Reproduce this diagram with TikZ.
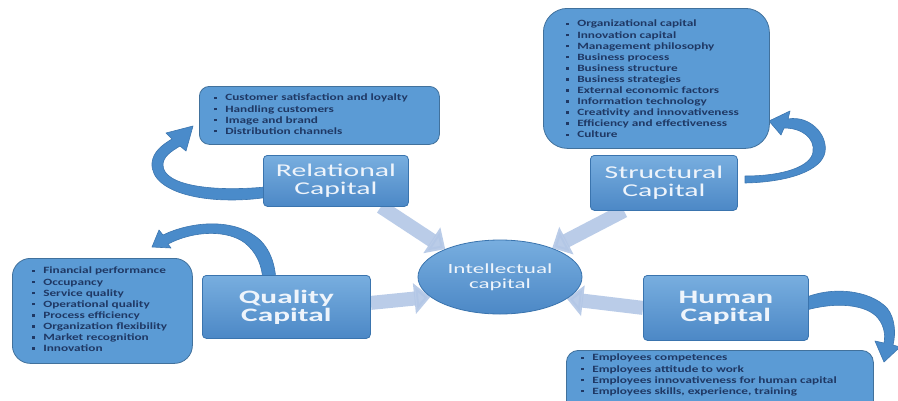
\documentclass[tikz,border=0pt]{standalone}
\usepackage{fontspec}
\setmainfont{Carlito}
\newfontfamily\listfont[FakeStretch=1.38]{Carlito}
\newfontfamily\titlefont[FakeStretch=1.65]{Carlito}
\usetikzlibrary{arrows.meta,shapes.geometric}

\definecolor{boxblue}{HTML}{5B9BD5}
\definecolor{boxedge}{HTML}{41719C}
\definecolor{captop}{HTML}{78AEDF}
\definecolor{capbot}{HTML}{4C88C6}
\definecolor{capedge}{HTML}{3A74AE}
\definecolor{listtext}{HTML}{1F3864}
\definecolor{titletext}{HTML}{EEF4FB}
\definecolor{curveblue}{HTML}{4A8BCA}
\definecolor{curveedge}{HTML}{3C76B0}
\definecolor{flowblue}{HTML}{B3C7E6}

% small square bullet in front of each list entry
\newcommand\sqb{\rule[1.8pt]{2.6pt}{2.6pt}\hspace{8.5pt}}

\pgfdeclarelayer{back}
\pgfsetlayers{back,main}

\tikzset{
  listbox/.style={draw=boxedge, fill=boxblue, line width=0.8pt,
    anchor=north west, inner sep=0pt},
  listtxt/.style={align=left, inner sep=0pt, anchor=north west,
    text=listtext, font=\listfont\bfseries\fontsize{9.6}{11.1}\selectfont},
  capbox/.style={rectangle, rounded corners=4pt, draw=capedge, line width=0.8pt,
    top color=captop, bottom color=capbot, anchor=north west, inner sep=0pt,
    align=center, text=titletext},
  captitle/.style={font=\titlefont\fontsize{18}{18}\selectfont},
  capbold/.style={font=\titlefont\bfseries\fontsize{19}{18}\selectfont},
  flow/.style={line width=14pt, draw=flowblue, opacity=0.9,
    -{Triangle[width=30pt,length=16pt]}},
  curvearrow/.style={fill=curveblue, draw=curveedge, line width=0.6pt, line join=round},
}

\begin{document}
\begin{tikzpicture}[x=1pt,y=-1pt]
\clip (0,0) rectangle (898,400);

% ---- list boxes ----
\node[listbox, rounded corners=10pt, minimum width=240pt, minimum height=58pt]
  (rellist) at (199,86) {};
\node[listbox, rounded corners=24pt, minimum width=226pt, minimum height=140pt]
  (strlist) at (543,8) {};
\node[listbox, rounded corners=18pt, minimum width=180pt, minimum height=105pt]
  (quallist) at (12,258) {};
\node[listbox, rounded corners=12pt, minimum width=307pt, minimum height=70pt]
  (humlist) at (566,350) {};

\node[listtxt] (reltext) at (214,94) {\sqb Customer satisfaction and loyalty\\
  \sqb Handling customers\\ \sqb Image and brand\\ \sqb Distribution channels};
\node[listtxt] (strtext) at (566,20) {\sqb Organizational capital\\
  \sqb Innovation capital\\ \sqb Management philosophy\\ \sqb Business process\\
  \sqb Business structure\\ \sqb Business strategies\\
  \sqb External economic factors\\ \sqb Information technology\\
  \sqb Creativity and innovativeness\\ \sqb Efficiency and effectiveness\\
  \sqb Culture};
\node[listtxt] (qualtext) at (32,267) {\sqb Financial performance\\
  \sqb Occupancy\\ \sqb Service quality\\ \sqb Operational quality\\
  \sqb Process efficiency\\ \sqb Organization flexibility\\
  \sqb Market recognition\\ \sqb Innovation};
\node[listtxt] (humtext) at (581,354) {\sqb Employees competences\\
  \sqb Employees attitude to work\\
  \sqb Employees innovativeness for human capital\\
  \sqb Employees skills, experience, training};

% ---- the four capitals and the centre ----
\node[capbox, captitle, minimum width=145pt, minimum height=51pt]
  (rel) at (263,155) {Relational\\Capital};
\node[capbox, captitle, minimum width=147pt, minimum height=55pt]
  (str) at (590,155) {Structural\\Capital};
\node[capbox, capbold, minimum width=168pt, minimum height=63pt]
  (qual) at (202,275) {Quality\\Capital};
\node[capbox, capbold, minimum width=165pt, minimum height=65pt]
  (hum) at (643,275) {Human\\Capital};
\node[ellipse, draw=capedge, line width=0.8pt, top color=captop, bottom color=capbot,
  minimum width=164pt, minimum height=74pt, inner sep=0pt, align=center,
  text=titletext, font=\titlefont\fontsize{14}{15}\selectfont]
  (ic) at (500,277) {Intellectual\\capital};

\begin{pgfonlayer}{back}
\fill[white] (0,0) rectangle (898,400);
% ---- straight flows into the centre ----
\draw[flow] ([xshift=45pt]rel.south) -- (ic.153);
\draw[flow] ([xshift=-40pt]str.south) -- (ic.29);
\draw[flow] ([yshift=4pt]qual.east) -- (ic.196);
\draw[flow] (hum.west) -- (ic.-18);

% ---- curved arrows from each capital to its list ----
\path[curvearrow] (275,196) .. controls (215,207) and (150,195) .. (152,163)
  .. controls (153,152) and (162,145) .. (172,139) -- (166,133) -- (193,126)
  -- (186,151) -- (180,146) .. controls (170,152) and (163,157) .. (163,165)
  .. controls (163,186) and (215,193) .. (275,186) -- cycle;
\path[curvearrow] (745,183) .. controls (790,182) and (822,170) .. (825,152)
  .. controls (828,135) and (810,115) .. (788,119) -- (790,111) -- (769,121)
  -- (781,135) -- (784,128) .. controls (802,128) and (815,138) .. (813,152)
  .. controls (811,166) and (785,176) .. (745,176) -- cycle;
\path[curvearrow] (276,285) .. controls (276,262) and (268,245) .. (255,236)
  .. controls (230,218) and (190,222) .. (163,235) -- (159,230) -- (152,247)
  -- (171,248) -- (168,244) .. controls (195,230) and (228,230) .. (245,243)
  .. controls (256,252) and (263,265) .. (263,285) -- cycle;
\path[curvearrow] (800,300) .. controls (830,285) and (870,290) .. (887,308)
  .. controls (895,318) and (896,333) .. (893,345) -- (900,347) -- (884,362)
  -- (875,341) -- (884,343) .. controls (886,333) and (883,323) .. (876,316)
  .. controls (862,303) and (830,302) .. (800,312) -- cycle;
\end{pgfonlayer}
\end{tikzpicture}
\end{document}
